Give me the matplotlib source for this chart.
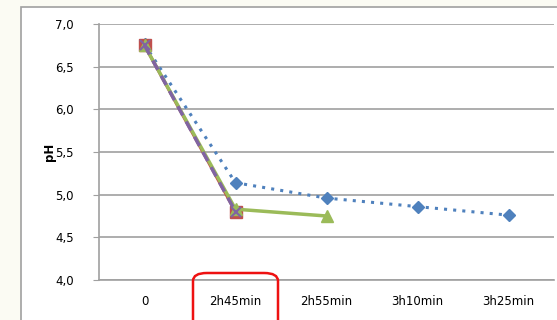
import matplotlib
matplotlib.use("Agg")
import matplotlib.pyplot as plt
import matplotlib.patches as patch

categories = ["0", "2h45min", "2h55min", "3h10min", "3h25min"]

ph_blue = [6.76, 5.14, 4.96, 4.86, 4.76]
ph_red = [6.75, 4.80]
ph_green = [6.75, 4.83, 4.75]
ph_purple = [6.75, 4.80]

W, H = 557, 320
fig = plt.figure(figsize=(W / 100, H / 100), dpi=100)
fig.patch.set_facecolor("#fbfbf3")

# white chart frame
fig.add_artist(patch.Rectangle((21 / W, -0.01), 1.0, (H - 7) / H + 0.01,
                               transform=fig.transFigure, facecolor="white",
                               edgecolor="#a0a0a0", linewidth=1.2, zorder=0))

ax = fig.add_axes([99 / W, 40 / H, 455 / W, 256 / H])
ax.set_facecolor("white")
x = list(range(len(categories)))

ax.plot(x, ph_blue, color="#4f81bd", linestyle=(0, (1, 2)), linewidth=2.2,
        marker="D", markersize=6.5, zorder=3)
ax.plot(x[:2], ph_red, color="#c0504d", linewidth=2.2,
        marker="s", markersize=8, zorder=4)
ax.plot(x[:3], ph_green, color="#9bbb59", linewidth=2.5,
        marker="^", markersize=8, zorder=5)
ax.plot(x[:2], ph_purple, color="#8064a2", linestyle=(0, (3, 2)), linewidth=2.5,
        marker="x", markersize=7, markeredgewidth=1.5, zorder=6)

ax.set_xlim(-0.5, 4.5)
ax.set_ylim(4.0, 7.0)
ax.set_yticks([4.0, 4.5, 5.0, 5.5, 6.0, 6.5, 7.0])
ax.set_yticklabels(["4,0", "4,5", "5,0", "5,5", "6,0", "6,5", "7,0"])
ax.set_xticks(x)
ax.set_xticklabels(categories)
ax.grid(axis="y", color="#a0a0a0", linewidth=1.2)
ax.set_axisbelow(True)
for side in ["top", "right"]:
    ax.spines[side].set_visible(False)
ax.spines["left"].set_color("#a0a0a0")
ax.spines["bottom"].set_color("#a0a0a0")
ax.spines["left"].set_linewidth(1.2)
ax.spines["bottom"].set_linewidth(1.2)
ax.tick_params(axis="y", length=4, color="#a0a0a0", labelsize=8.5, pad=14)
ax.tick_params(axis="x", length=0, labelsize=8.5, pad=11)
ax.set_ylabel("pH", fontsize=8.5, fontweight="bold", labelpad=4)
ax.yaxis.set_label_coords(-43 / 455, 0.5)

# red highlight around the 2h45min label
fig.add_artist(patch.FancyBboxPatch((193 / W, -0.05), 85 / W, (H - 273) / H + 0.05,
                                    boxstyle="round,pad=0,rounding_size=0.025",
                                    transform=fig.transFigure, facecolor="none",
                                    edgecolor="#ee1111", linewidth=1.8, zorder=10))

fig.savefig("out.png", dpi=100, facecolor=fig.get_facecolor())
